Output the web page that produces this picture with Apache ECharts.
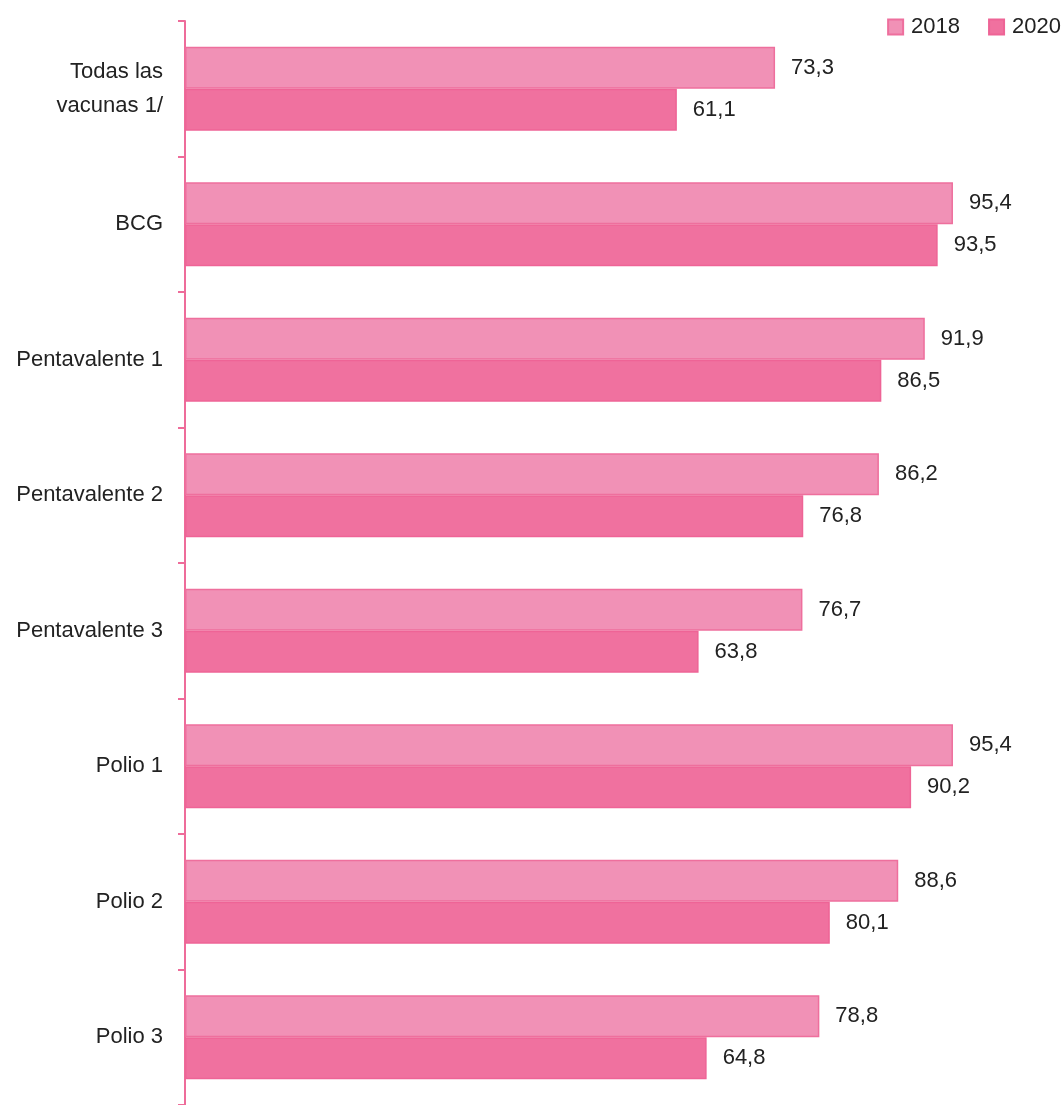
<!DOCTYPE html>
<html>
<head>
<meta charset="utf-8">
<script src="https://cdn.jsdelivr.net/npm/echarts@6/dist/echarts.min.js"></script>
<style>
  html, body { margin: 0; padding: 0; background: #fff; }
  #chartBox { width: 1062px; height: 1105px; }
</style>
</head>
<body>
<div id="chartBox"></div>
<script>
// categorias (de arriba hacia abajo)
var categories = [
  "Todas las\nvacunas 1/",
  "BCG",
  "Pentavalente 1",
  "Pentavalente 2",
  "Pentavalente 3",
  "Polio 1",
  "Polio 2",
  "Polio 3"
];
var seriesNames = ["2018", "2020"];
var values2018 = [73.3, 95.4, 91.9, 86.2, 76.7, 95.4, 88.6, 78.8];
var values2020 = [61.1, 93.5, 86.5, 76.8, 63.8, 90.2, 80.1, 64.8];

var font = "'Liberation Sans', Arial, sans-serif";

var chart = echarts.init(document.getElementById("chartBox"));

function fmt(p) {
  return p.value.toFixed(1).replace(".", ",");
}

var labelStyle = {
  show: true,
  position: "right",
  distance: 16,
  formatter: fmt,
  fontFamily: font,
  fontSize: 22,
  color: "#222"
};

var option = {
  animation: false,
  legend: {
    data: seriesNames,
    icon: "rect",
    right: -4,
    top: 11,
    itemWidth: 15,
    itemHeight: 15,
    itemGap: 28,
    textStyle: { fontFamily: font, fontSize: 22, color: "#222", padding: [0, 0, 0, 3] }
  },
  grid: {
    left: 185,
    top: 21,
    width: 805,
    height: 1094
  },
  xAxis: {
    type: "value",
    min: 0,
    max: 100,
    show: false
  },
  yAxis: {
    type: "category",
    data: categories,
    inverse: true,
    axisLine: { lineStyle: { color: "#EE6C9A", width: 2 } },
    axisTick: { show: true, length: 7, lineStyle: { color: "#EE6C9A", width: 2 } },
    axisLabel: {
      fontFamily: font,
      fontSize: 22,
      color: "#222",
      margin: 22,
      lineHeight: 34,
      align: "right"
    }
  },
  series: [
    {
      name: "2018",
      type: "bar",
      data: values2018,
      barGap: "0%",
      barCategoryGap: "38%",
      itemStyle: { color: "#F191B6", borderColor: "#EE6F9D", borderWidth: 1.5 },
      label: labelStyle
    },
    {
      name: "2020",
      type: "bar",
      data: values2020,
      itemStyle: { color: "#F0719F", borderColor: "#EE6496", borderWidth: 1.5 },
      label: labelStyle
    }
  ]
};

chart.setOption(option);
</script>
</body>
</html>
